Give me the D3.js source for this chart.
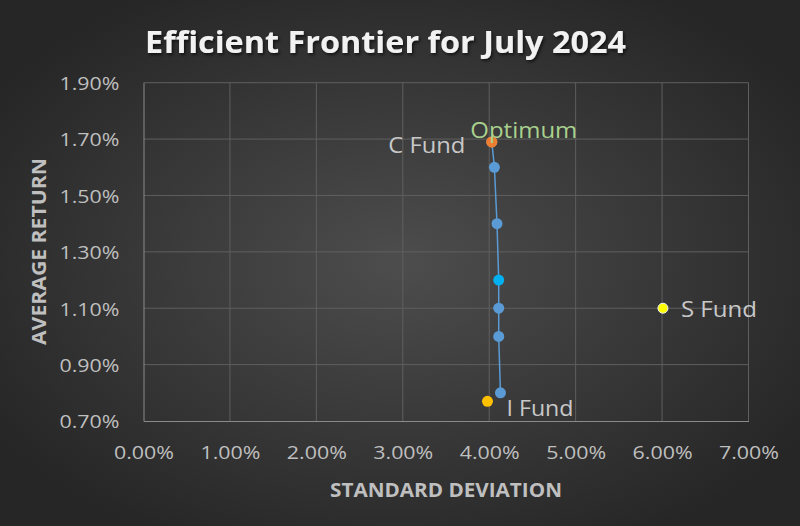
<!DOCTYPE html>
<html><head><meta charset="utf-8">
<script src="https://cdn.jsdelivr.net/npm/d3@7"></script>
<style>html,body{margin:0;padding:0;background:#2a2a2a;}svg{display:block;}</style>
</head><body>
<svg id="chart" width="800" height="526"></svg>
<script>
// Data (percent values)
const frontierSD = [4.13, 4.11, 4.11, 4.11, 4.09, 4.06, 4.03];
const frontierRet = [0.80, 1.00, 1.10, 1.20, 1.40, 1.60, 1.69];
const highlightIndex = 3; // brighter point at 1.20%
const fundNames = ["C Fund", "S Fund", "I Fund"];
const fundSD = [4.03, 6.01, 3.98];
const fundRet = [1.69, 1.10, 0.77];
const optimumName = "Optimum";
const optimumSD = 4.03, optimumRet = 1.69;
const xTicks = [0, 1, 2, 3, 4, 5, 6, 7];
const yTicks = [0.70, 0.90, 1.10, 1.30, 1.50, 1.70, 1.90];

const W = 800, H = 526;
const svg = d3.select("#chart");
const defs = svg.append("defs");
const rg = defs.append("radialGradient").attr("id","bg").attr("cx","50%").attr("cy","50%").attr("r","60%");
rg.append("stop").attr("offset","0%").attr("stop-color","#4d4d4d");
rg.append("stop").attr("offset","100%").attr("stop-color","#262626");
const f = defs.append("filter").attr("id","shadow").attr("x","-10%").attr("y","-30%").attr("width","120%").attr("height","160%");
f.append("feDropShadow").attr("dx",1.5).attr("dy",2).attr("stdDeviation",1.5).attr("flood-color","#000").attr("flood-opacity",0.6);
svg.append("rect").attr("width",W).attr("height",H).attr("fill","url(#bg)");

const x = d3.scaleLinear().domain([0, 7]).range([143.5, 748.5]);
const y = d3.scaleLinear().domain([0.70, 1.90]).range([421, 82.7]);
const font = "'Open Sans', sans-serif";

// gridlines
svg.append("g").selectAll("line.v").data(xTicks.slice(1)).join("line")
  .attr("x1", d=>x(d)).attr("x2", d=>x(d)).attr("y1", y(1.90)).attr("y2", y(0.70))
  .attr("stroke","#5f5f5f").attr("stroke-width",1);
svg.append("g").selectAll("line.h").data(yTicks.slice(1)).join("line")
  .attr("x1", x(0)).attr("x2", x(7)).attr("y1", d=>y(d)).attr("y2", d=>y(d))
  .attr("stroke","#5f5f5f").attr("stroke-width",1);

// axes
const xAxis = svg.append("g").attr("transform",`translate(0,${y(0.70)})`)
  .call(d3.axisBottom(x).tickValues(xTicks).tickFormat(d=>d.toFixed(2)+"%").tickSize(0).tickPadding(25));
const yAxis = svg.append("g").attr("transform",`translate(${x(0)},0)`)
  .call(d3.axisLeft(y).tickValues(yTicks).tickFormat(d=>d.toFixed(2)+"%").tickSize(0).tickPadding(24));
[xAxis, yAxis].forEach(a=>{
  a.select(".domain").attr("stroke","#8a8a8a").attr("stroke-width",1);
  a.selectAll("text").attr("fill","#bfbfbf").style("font-family",font).style("font-size","19px")
    .attr("textLength",60).attr("lengthAdjust","spacingAndGlyphs");
});
yAxis.selectAll("text").attr("dy","0.36em");

// frontier line
const line = d3.line().x((d,i)=>x(frontierSD[i])).y((d,i)=>y(frontierRet[i]));
svg.append("path").datum(frontierSD).attr("d", line).attr("fill","none")
  .attr("stroke","#5b9bd5").attr("stroke-width",1.5);
svg.append("g").selectAll("circle").data(frontierSD).join("circle")
  .attr("cx",(d,i)=>x(frontierSD[i])).attr("cy",(d,i)=>y(frontierRet[i])).attr("r",5.5)
  .attr("fill",(d,i)=> i===highlightIndex ? "#00b0f0" : "#5b9bd5");

// funds
const fundColors = ["#ed7d31", "#ffff00", "#ffc000"];
svg.append("g").selectAll("circle").data(fundNames).join("circle")
  .attr("cx",(d,i)=>x(fundSD[i])).attr("cy",(d,i)=>y(fundRet[i])).attr("r",(d,i)=>i===1?5:5.5)
  .attr("fill",(d,i)=>fundColors[i])
  .attr("stroke",(d,i)=>i===1?"#f2f2f2":"none").attr("stroke-width",1);
// optimum
svg.append("circle").attr("cx",x(optimumSD)).attr("cy",y(optimumRet)).attr("r",5.5).attr("fill","#ed7d31");

// labels
const lab = (t, px, py, len, color, size) => svg.append("text").text(t).attr("x",px).attr("y",py)
  .attr("fill",color).style("font-family",font).style("font-size",size+"px")
  .attr("textLength",len).attr("lengthAdjust","spacingAndGlyphs");
lab(fundNames[0], x(fundSD[0]) - 103.5, y(fundRet[0]) + 11, 77, "#c8c8c8", 21.5);
lab(fundNames[1], x(fundSD[1]) + 18, y(fundRet[1]) + 8.5, 76, "#c8c8c8", 21.5);
lab(fundNames[2], x(fundSD[2]) + 19, y(fundRet[2]) + 15, 67, "#c8c8c8", 21.5);
lab(optimumName, x(optimumSD) - 21.5, y(optimumRet) - 4, 107, "#a9d18e", 22.5);

// titles
svg.append("text").text("Efficient Frontier for July 2024").attr("x",145).attr("y",53)
  .attr("fill","#f2f2f2").attr("filter","url(#shadow)")
  .style("font-family",font).style("font-size","29.5px").style("font-weight","bold")
  .attr("textLength",481).attr("lengthAdjust","spacingAndGlyphs");
svg.append("text").text("STANDARD DEVIATION").attr("x",330).attr("y",497)
  .attr("fill","#bfbfbf")
  .style("font-family",font).style("font-size","20px").style("font-weight","bold")
  .attr("textLength",232).attr("lengthAdjust","spacingAndGlyphs");
svg.append("text").text("AVERAGE RETURN").attr("transform","translate(46,345) rotate(-90)")
  .attr("fill","#bfbfbf")
  .style("font-family",font).style("font-size","20px").style("font-weight","bold")
  .attr("textLength",187).attr("lengthAdjust","spacingAndGlyphs");
</script>
</body></html>
